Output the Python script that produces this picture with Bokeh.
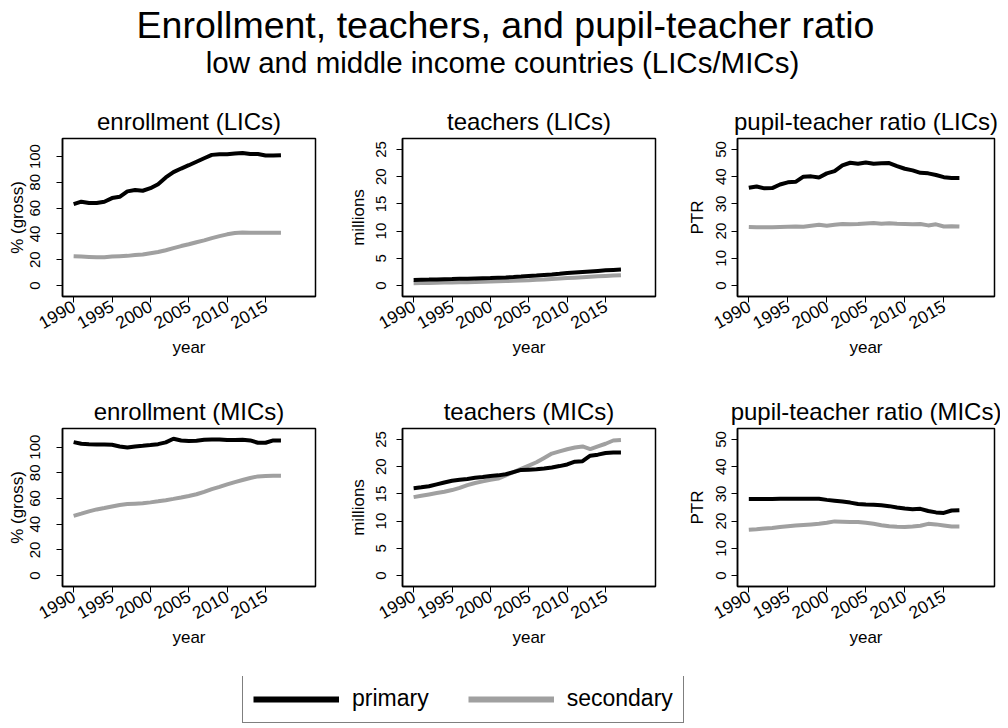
import math
from bokeh.plotting import figure
from bokeh.layouts import column, row
from bokeh.models import Range1d, FixedTicker, Legend, LegendItem
from bokeh.core.properties import value
from bokeh.embed import file_html
from bokeh.resources import INLINE

FONT = "Liberation Sans"

years = list(range(1990, 2018))
x_ticks = [1990, 1995, 2000, 2005, 2010, 2015]

enroll_lic_pri = [63.1, 65.0, 64.0, 64.0, 65.0, 67.8, 68.8, 73.0, 74.0, 73.5, 75.5, 78.6, 83.8, 87.9,
                  90.7, 93.3, 96.0, 98.7, 101.3, 101.8, 101.8, 102.3, 102.8, 102.0, 102.0, 100.8, 100.8, 101.0]
enroll_lic_sec = [22.7, 22.5, 22.2, 21.9, 22.0, 22.6, 22.8, 23.0, 23.6, 24.0, 25.0, 26.0, 27.4, 29.0,
                  30.6, 32.0, 33.6, 35.0, 36.8, 38.3, 39.7, 40.7, 41.2, 41.0, 41.0, 41.0, 41.0, 41.0]
teach_lic_pri = [1.05, 1.08, 1.10, 1.13, 1.17, 1.20, 1.24, 1.28, 1.32, 1.36, 1.40, 1.45, 1.50, 1.57,
                 1.65, 1.75, 1.84, 1.95, 2.05, 2.17, 2.30, 2.40, 2.50, 2.60, 2.70, 2.80, 2.88, 2.95]
teach_lic_sec = [0.45, 0.47, 0.50, 0.52, 0.55, 0.58, 0.60, 0.63, 0.66, 0.70, 0.74, 0.78, 0.83, 0.88,
                 0.94, 1.00, 1.07, 1.14, 1.22, 1.30, 1.38, 1.46, 1.54, 1.62, 1.70, 1.78, 1.86, 1.92]
ptr_lic_pri = [35.9, 36.4, 35.7, 35.8, 37.1, 37.9, 38.1, 40.0, 40.1, 39.7, 41.2, 42.0, 44.1, 45.1,
               44.7, 45.2, 44.7, 44.9, 45.0, 43.9, 42.9, 42.3, 41.4, 41.2, 40.6, 39.8, 39.5, 39.5]
ptr_lic_sec = [21.5, 21.4, 21.4, 21.4, 21.5, 21.6, 21.7, 21.6, 22.0, 22.3, 22.0, 22.3, 22.6, 22.5,
               22.6, 22.8, 23.0, 22.7, 22.9, 22.7, 22.6, 22.5, 22.6, 22.1, 22.5, 21.7, 21.8, 21.7]
enroll_mic_pri = [103.9, 102.6, 102.3, 102.1, 102.1, 101.8, 100.5, 99.7, 100.5, 101.0, 101.6, 102.3, 103.7, 106.5,
                  105.2, 104.7, 105.0, 105.7, 106.0, 106.0, 105.5, 105.5, 105.7, 105.2, 103.4, 103.4, 105.2, 105.2]
enroll_mic_sec = [46.5, 48.2, 50.0, 51.5, 52.6, 53.8, 55.0, 55.7, 56.0, 56.3, 57.0, 57.8, 58.7, 59.7,
                  60.8, 62.0, 63.3, 65.2, 67.3, 69.0, 71.0, 72.8, 74.4, 76.0, 77.2, 77.6, 77.8, 77.8]
teach_mic_pri = [16.05, 16.2, 16.4, 16.75, 17.1, 17.4, 17.6, 17.75, 17.95, 18.1, 18.3, 18.4, 18.6, 19.0,
                 19.4, 19.45, 19.5, 19.65, 19.85, 20.1, 20.4, 20.9, 21.0, 22.0, 22.2, 22.5, 22.6, 22.6]
teach_mic_sec = [14.4, 14.65, 14.9, 15.15, 15.4, 15.7, 16.1, 16.6, 17.0, 17.3, 17.6, 17.8, 18.4, 19.0,
                 19.6, 20.2, 20.8, 21.6, 22.4, 22.8, 23.2, 23.5, 23.7, 23.2, 23.7, 24.2, 24.8, 24.9]
ptr_mic_pri = [28.1, 28.1, 28.1, 28.1, 28.2, 28.2, 28.2, 28.2, 28.2, 28.2, 27.8, 27.5, 27.2, 26.8,
               26.3, 26.1, 26.0, 25.8, 25.5, 25.0, 24.6, 24.4, 24.5, 23.7, 23.2, 23.0, 23.9, 24.0]
ptr_mic_sec = [16.8, 17.0, 17.3, 17.5, 17.8, 18.1, 18.4, 18.6, 18.8, 19.0, 19.4, 19.9, 19.8, 19.7,
               19.7, 19.4, 19.0, 18.5, 18.1, 17.9, 17.8, 18.0, 18.3, 19.0, 18.8, 18.4, 18.0, 18.0]

enroll_ticks = [0, 20, 40, 60, 80, 100]
teach_ticks = [0, 5, 10, 15, 20, 25]
ptr_ticks = [0, 10, 20, 30, 40, 50]

PRI_COLOR = "black"
SEC_COLOR = "#a0a0a0"


def panel(title, ylabel, pri, sec, yr, yticks, width, lb, rb, height, bb, tick_sd, lab_sd):
    p = figure(width=width, height=height, output_backend="svg", toolbar_location=None,
               x_range=Range1d(1988.55, 2021.5), y_range=Range1d(*yr),
               min_border_left=lb, min_border_right=rb, min_border_top=38, min_border_bottom=bb,
               title=title)
    p.title.text_font = FONT
    p.title.text_font_size = "24px"
    p.title.text_font_style = "normal"
    p.title.align = "center"
    p.title.text_color = "black"
    p.title.standoff = 8
    p.xgrid.visible = False
    p.ygrid.visible = False
    p.outline_line_color = "black"
    p.outline_line_width = 1.5
    p.outline_line_alpha = 1.0
    p.background_fill_color = "white"
    p.border_fill_color = "white"

    p.line(years, sec, line_color=SEC_COLOR, line_width=4)
    p.line(years, pri, line_color=PRI_COLOR, line_width=4)

    for ax in (p.xaxis[0], p.yaxis[0]):
        ax.axis_line_color = "black"
        ax.axis_line_width = 1.5
        ax.major_tick_line_color = "black"
        ax.major_tick_line_width = 1
        ax.major_tick_out = 6
        ax.major_tick_in = 0
        ax.minor_tick_line_color = None
        ax.major_label_text_font = FONT
        ax.major_label_text_color = "black"
        ax.axis_label_text_font = FONT
        ax.axis_label_text_font_style = "normal"
        ax.axis_label_text_font_size = "17px"
        ax.axis_label_text_color = "black"

    xa = p.xaxis[0]
    xa.ticker = FixedTicker(ticks=x_ticks)
    xa.major_label_orientation = math.pi / 6
    xa.major_label_text_font_size = "17.5px"
    xa.major_label_standoff = 2
    xa.axis_label = "year"
    xa.axis_label_standoff = 0

    ya = p.yaxis[0]
    ya.ticker = FixedTicker(ticks=yticks)
    ya.major_label_orientation = "vertical"
    ya.major_label_text_font_size = "15px"
    ya.major_label_standoff = tick_sd
    ya.axis_label = ylabel
    ya.axis_label_standoff = lab_sd
    return p


H1, B1 = 290, 94
H2, B2 = 286, 90

f1 = panel("enrollment (LICs)", "% (gross)", enroll_lic_pri, enroll_lic_sec, (-8.5, 114.0), enroll_ticks,
           338, 62, 23, H1, B1, 16, 1)
f2 = panel("teachers (LICs)", "millions", teach_lic_pri, teach_lic_sec, (-2.0, 27.0), teach_ticks,
           330, 64, 13, H1, B1, 10, 6)
f3 = panel("pupil-teacher ratio (LICs)", "PTR", ptr_lic_pri, ptr_lic_sec, (-4.0, 54.0), ptr_ticks,
           332, 69, 6, H1, B1, 5, 7)
f4 = panel("enrollment (MICs)", "% (gross)", enroll_mic_pri, enroll_mic_sec, (-8.5, 114.5), enroll_ticks,
           338, 62, 23, H2, B2, 16, 1)
f5 = panel("teachers (MICs)", "millions", teach_mic_pri, teach_mic_sec, (-2.0, 27.0), teach_ticks,
           330, 64, 13, H2, B2, 10, 6)
f6 = panel("pupil-teacher ratio (MICs)", "PTR", ptr_mic_pri, ptr_mic_sec, (-4.0, 54.0), ptr_ticks,
           332, 69, 6, H2, B2, 5, 7)

# header
HH = 100
hdr = figure(width=1000, height=HH, output_backend="svg", toolbar_location=None,
             x_range=Range1d(0, 1000), y_range=Range1d(0, HH), min_border=0)
hdr.axis.visible = False
hdr.grid.visible = False
hdr.outline_line_color = None
hdr.text(x=[505], y=[HH - 24], text=["Enrollment, teachers, and pupil-teacher ratio"],
         text_align="center", text_baseline="middle", text_font=value(FONT),
         text_font_size="37.5px", text_color="black")
hdr.text(x=[502], y=[HH - 62], text=["low and middle income countries (LICs/MICs)"],
         text_align="center", text_baseline="middle", text_font=value(FONT),
         text_font_size="29.5px", text_color="black")

# legend
LH = 48
lg = figure(width=1000, height=LH, output_backend="svg", toolbar_location=None,
            x_range=Range1d(0, 1), y_range=Range1d(0, 1), min_border=0)
lg.axis.visible = False
lg.grid.visible = False
lg.outline_line_color = None
r1 = lg.line([5, 6], [5, 6], line_color=PRI_COLOR, line_width=6)
r2 = lg.line([5, 6], [5, 6], line_color=SEC_COLOR, line_width=6)
legend = Legend(items=[LegendItem(label="primary", renderers=[r1]),
                       LegendItem(label="secondary", renderers=[r2])],
                orientation="horizontal", location=(242, 1))
legend.glyph_width = 86
legend.glyph_height = 26
legend.label_standoff = 13
legend.spacing = 39
legend.padding = 10
legend.margin = 0
legend.border_line_color = "black"
legend.border_line_width = 1.5
legend.label_text_font = FONT
legend.label_text_font_size = "23px"
legend.label_text_color = "black"
legend.background_fill_alpha = 1.0
lg.add_layout(legend)

layout = column(hdr, row(f1, f2, f3), row(f4, f5, f6), lg)

open("out.html", "w").write(file_html(layout, INLINE))
